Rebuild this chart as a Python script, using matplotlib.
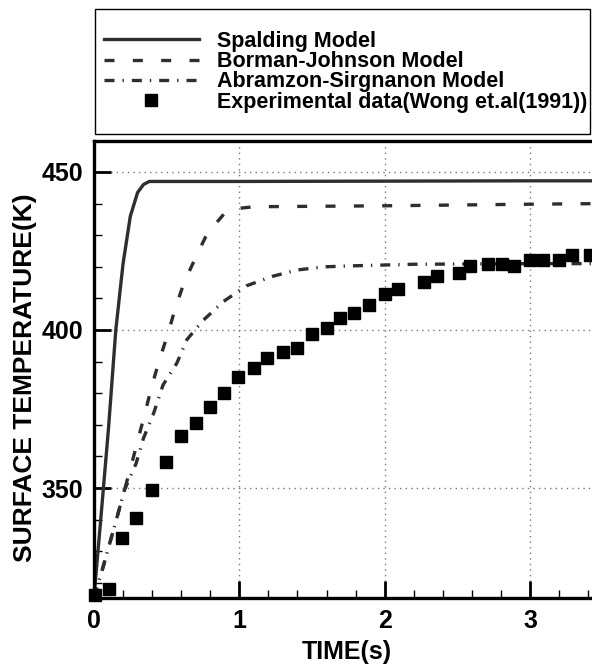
import numpy as np
import matplotlib
matplotlib.use('Agg')
import matplotlib.pyplot as plt
from matplotlib.patches import Rectangle

plt.rcParams['font.family'] = ['Liberation Sans', 'DejaVu Sans']
plt.rcParams['font.weight'] = 'bold'

# Spalding model
sp_t = [0, 0.05, 0.10, 0.15, 0.20, 0.25, 0.30, 0.34, 0.38, 0.45, 1.0, 2.0, 3.0, 3.5]
sp_T = [315.5, 342, 369, 400, 421, 436, 443.5, 446, 447, 447, 447, 447.1, 447.2, 447.2]

# Borman-Johnson model
bj_t = [0, 0.06, 0.11, 0.16, 0.21, 0.26, 0.305, 0.35, 0.40, 0.45, 0.51, 0.56, 0.62,
        0.70, 0.78, 0.90, 1.0, 1.1, 2.0, 3.0, 3.5]
bj_T = [315.5, 324.6, 332.8, 341, 349.4, 357.8, 365.7, 373.6, 382.6, 390.5, 399, 407, 415,
        423, 430.6, 437, 438.5, 439, 439.3, 439.8, 440]

# Abramzon-Sirgnanon model
ab_t = [0, 0.06, 0.11, 0.16, 0.21, 0.29, 0.34, 0.41, 0.475, 0.57, 0.64, 0.75, 0.89,
        1.05, 1.23, 1.40, 1.59, 1.78, 2.2, 3.0, 3.5]
ab_T = [315.5, 324.6, 332.8, 341, 349.4, 357.8, 365.7, 373.6, 382.6, 389.5, 397, 403, 409,
        414, 417, 419, 420, 420.3, 420.8, 421, 421]

# Experimental data (Wong et al. 1991)
ex_t = [0.01, 0.10, 0.195, 0.29, 0.40, 0.495, 0.60, 0.70, 0.80, 0.895, 0.99, 1.10, 1.19,
        1.30, 1.395, 1.50, 1.60, 1.69, 1.79, 1.895, 2.00, 2.09, 2.27, 2.36, 2.51, 2.59,
        2.71, 2.81, 2.89, 3.00, 3.09, 3.20, 3.29, 3.41]
ex_T = [316.3, 317.9, 334.1, 340.4, 349.4, 358.1, 366.5, 370.5, 375.5, 380, 385, 388, 391,
        393, 394.2, 398.6, 400.5, 403.7, 405.3, 407.8, 411.3, 412.9, 415.1, 417, 417.9, 420.2,
        420.9, 420.9, 420.4, 422, 422, 422, 423.6, 423.6]

fig = plt.figure(figsize=(5.92, 6.68), dpi=100)
ax = fig.add_axes([94/592, 70/668, 508.6/592, 457/668])

lc = '#2e2e2e'
l1, = ax.plot(sp_t, sp_T, color=lc, lw=2.4, label='Spalding Model')
l2, = ax.plot(bj_t, bj_T, color=lc, lw=2.4, dashes=(3, 5.5), label='Borman-Johnson Model')
l3, = ax.plot(ab_t, ab_T, color=lc, lw=2.4, dashes=(3, 2.4, 0.4, 2.4),
              label='Abramzon-Sirgnanon Model')
l4, = ax.plot(ex_t, ex_T, 's', color='black', ms=8, clip_on=False,
              label='Experimental data(Wong et.al(1991))')

ax.set_xlim(0, 3.5)
ax.set_ylim(315.2, 459.8)
ax.set_xticks([0, 1, 2, 3])
ax.set_yticks([350, 400, 450])
ax.set_xticks(np.arange(0, 3.5, 0.2), minor=True)
ax.set_yticks(np.arange(320, 460, 10), minor=True)
ax.tick_params(which='major', direction='in', length=12, width=2, labelsize=18, pad=8)
ax.tick_params(which='minor', direction='in', length=6, width=1)
ax.grid(which='major', ls=(0, (1, 3)), color='#777777', lw=1)
for s in ax.spines.values():
    s.set_linewidth(2.4)

ax.set_xlabel('TIME(s)', fontsize=18, fontweight='bold')
ax.xaxis.set_label_coords((347 - 94) / 508.6, -0.091)
ax.set_ylabel('SURFACE TEMPERATURE(K)', fontsize=19, fontweight='bold')
ax.yaxis.set_label_coords(-0.112, 0.4825)

leg = fig.legend(handles=[l1, l2, l3, l4], loc='upper left',
                 bbox_to_anchor=(104/592, 1 - 31/668), frameon=False,
                 fontsize=15.5, handlelength=4.4, handletextpad=0.85,
                 labelspacing=-0.035, borderaxespad=0, borderpad=0)
for t in leg.get_texts():
    t.set_fontweight('bold')
fig.patches.append(Rectangle((95/592, 1 - 134/668), 495/592, 125/668,
                             transform=fig.transFigure, fill=False, ec='black', lw=1))

fig.savefig('out.png', dpi=100)
